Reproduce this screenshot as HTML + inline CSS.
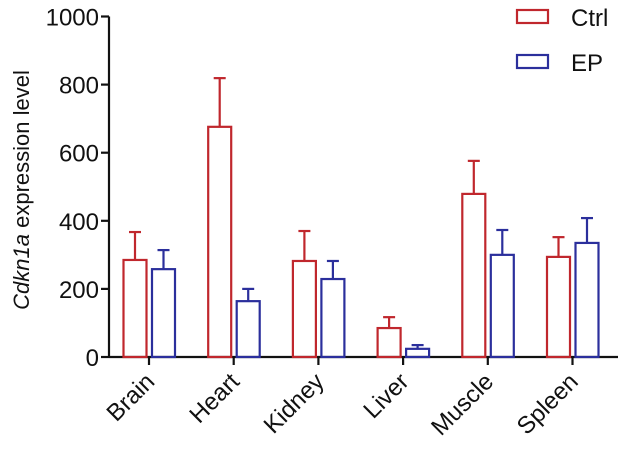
<!DOCTYPE html>
<html><head><meta charset="utf-8"><style>
body{margin:0;background:#fff;}
svg{display:block;font-family:"Liberation Sans",Arial,sans-serif;}
</style></head><body>
<svg id="chart" width="618" height="454">
<g id="axes"></g><g id="bars"></g>
<g>
<g>
<rect x="517" y="10" width="31" height="13" fill="none" stroke="#c0272d" stroke-width="2.2"/>
<text x="571" y="26" font-size="24" fill="#111">Ctrl</text></g>
<g>
<rect x="517" y="55" width="31" height="13" fill="none" stroke="#2b2f9c" stroke-width="2.2"/>
<text x="571" y="71" font-size="24" fill="#111">EP</text></g>
</g>
<text transform="translate(29,190) rotate(-90)" text-anchor="middle" font-size="22" fill="#111"><tspan font-style="italic">Cdkn1a</tspan> expression level</text>
</svg>
<script>
const categories=["Brain","Heart","Kidney","Liver","Muscle","Spleen"];
const ctrlValues=[285,676,282,85,479,294];
const ctrlErrors=[82,143,88,32,97,58];
const epValues=[258,164,229,24,300,335];
const epErrors=[56,36,53,11,73,73];
const yTicks=[0,200,400,600,800,1000];
const NS="http://www.w3.org/2000/svg";
const x0=109,y0=357,yScale=340.5/1000;
function y(v){return y0-v*yScale;}
function xc(i){return 149+i*84.7;}
function mk(tag,attrs,parent){const e=document.createElementNS(NS,tag);for(const k in attrs)e.setAttribute(k,attrs[k]);parent.appendChild(e);return e;}
const axes=document.getElementById('axes'),bars=document.getElementById('bars');
const ya=mk('line',{x1:x0,y1:y(1000),x2:x0,y2:y0,stroke:'#111','stroke-width':2.2},axes);


const xa=mk('line',{x1:x0,y1:y0,x2:618,y2:y0,stroke:'#111','stroke-width':2.2},axes);


yTicks.forEach(t=>{
 const l=mk('line',{x1:x0-8,y1:y(t),x2:x0,y2:y(t),stroke:'#111','stroke-width':2.2},axes);
 
 
 const tx=mk('text',{x:x0-10,y:y(t)+9,'text-anchor':'end','font-size':24,fill:'#111'},axes);
 tx.textContent=t;
 
 
});
function bar(cx,v,e,color,name){
 const g=mk('g',{},bars);
 
 
 mk('rect',{x:cx-11.5,y:y(v),width:23,height:y0-y(v),fill:'none',stroke:color,'stroke-width':2.2},g);
 mk('line',{x1:cx,y1:y(v),x2:cx,y2:y(v+e),stroke:color,'stroke-width':2.2},g);
 mk('line',{x1:cx-6,y1:y(v+e),x2:cx+6,y2:y(v+e),stroke:color,'stroke-width':2.2},g);
}
categories.forEach((c,i)=>{
 const cx=xc(i);
 bar(cx-14,ctrlValues[i],ctrlErrors[i],'#c0272d','bar-ctrl-'+c.toLowerCase());
 bar(cx+14.5,epValues[i],epErrors[i],'#2b2f9c','bar-ep-'+c.toLowerCase());
 const tk=mk('line',{x1:cx,y1:y0,x2:cx,y2:y0+8,stroke:'#111','stroke-width':2.2},axes);
 
 
 const tx=mk('text',{transform:`translate(${cx+7},${y0+26}) rotate(-45)`,'text-anchor':'end','font-size':24,fill:'#111'},axes);
 tx.textContent=c;
 
 
});
</script>
</body></html>
